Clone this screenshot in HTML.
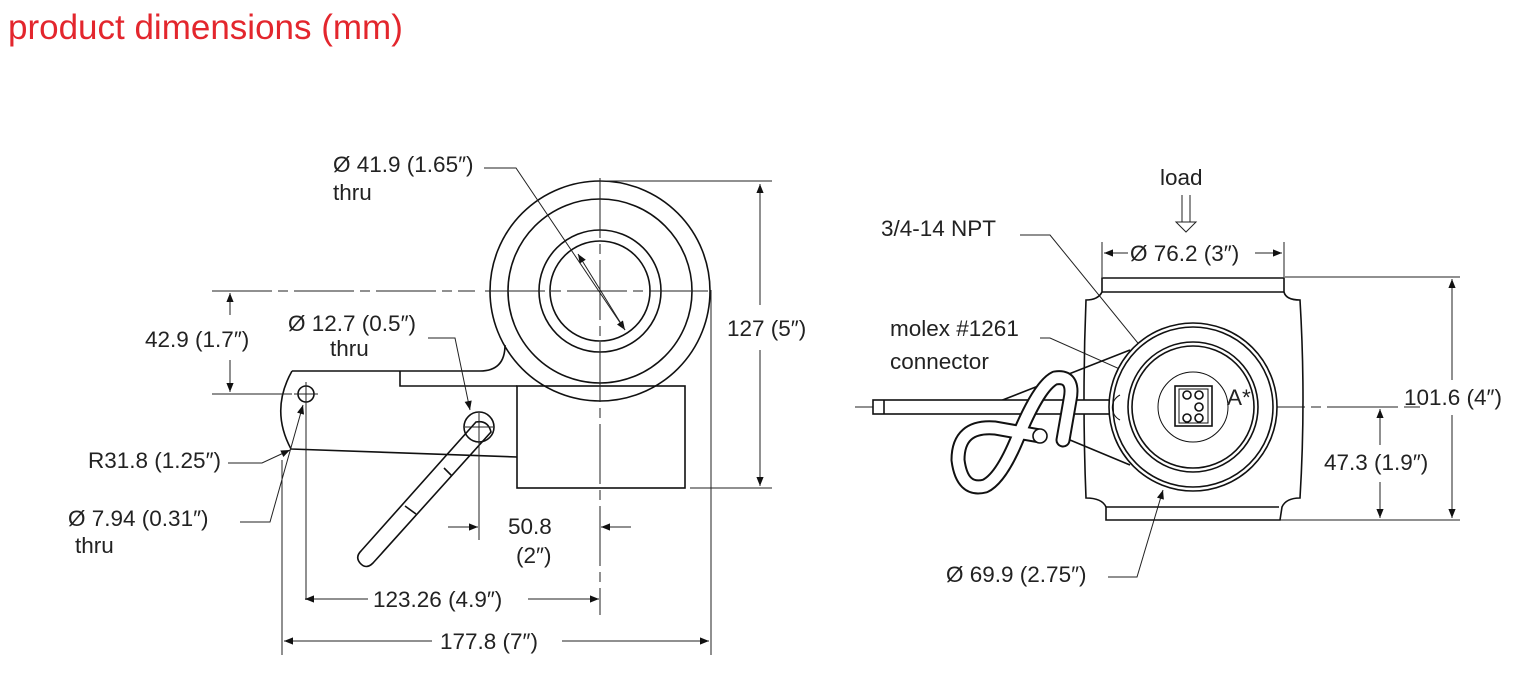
<!DOCTYPE html>
<html><head><meta charset="utf-8"><style>
html,body{margin:0;padding:0;background:#fff;}
svg{display:block;}
text{font-family:"Liberation Sans",sans-serif;font-size:22.5px;fill:#222;}
</style></head><body>
<svg width="1517" height="687" viewBox="0 0 1517 687" xmlns="http://www.w3.org/2000/svg">
<defs>
<marker id="a" viewBox="0 0 10 10" refX="10" refY="5" markerWidth="18" markerHeight="9" markerUnits="userSpaceOnUse" orient="auto-start-reverse"><path d="M0,1 L10,5 L0,9z" fill="#111"/></marker>
</defs>
<text x="8" y="39" style="font-size:35px;fill:#e3262d">product dimensions (mm)</text>

<g fill="none" stroke="#111" stroke-width="1.6">
<circle cx="600" cy="291" r="110"/>
<circle cx="600" cy="291" r="92"/>
<circle cx="600" cy="291" r="61"/>
<circle cx="600" cy="291" r="50"/>
<rect x="517" y="386" width="168" height="102"/>
<path d="M292,371 L400,371 L400,386 L517,386 M400,371 L480,371 Q505,371 505,345"/>
<path d="M292,371 Q270,410 291,449 L517,457"/>
<circle cx="306" cy="394" r="8"/>
<circle cx="479" cy="427" r="15"/>
<path d="M476,422 Q488,420 491,432 L373,563 Q366,570 360,563 Q355,557 361,551 Z"/>
<line x1="444" y1="468" x2="452" y2="476"/><line x1="405" y1="506" x2="416" y2="514"/>
</g>
<g fill="none" stroke="#222" stroke-width="1">
<path d="M212,291 L475,291 M485,291 L708,291 M600,178 L600,615" stroke-dasharray="60,6,10,6"/>
<path d="M294,394 L318,394 M306,382 L306,600 M465,427 L493,427 M479,413 L479,540"/>
<path d="M600,181 L772,181 M690,488 L772,488 M212,394 L292,394 M282,460 L282,655 M711,290 L711,655"/>
<line x1="760" y1="184" x2="760" y2="305" marker-start="url(#a)"/><line x1="760" y1="350" x2="760" y2="486" marker-end="url(#a)"/>
<line x1="230" y1="293" x2="230" y2="315" marker-start="url(#a)"/><line x1="230" y1="360" x2="230" y2="392" marker-end="url(#a)"/>
<line x1="305" y1="599" x2="368" y2="599" marker-start="url(#a)"/><line x1="528" y1="599" x2="599" y2="599" marker-end="url(#a)"/>
<line x1="284" y1="641" x2="432" y2="641" marker-start="url(#a)"/><line x1="562" y1="641" x2="709" y2="641" marker-end="url(#a)"/>
<line x1="448" y1="527" x2="478" y2="527" marker-end="url(#a)"/><line x1="631" y1="527" x2="601" y2="527" marker-end="url(#a)"/>
<path d="M484,168 L516,168 L625,330" marker-end="url(#a)"/>
<line x1="625" y1="330" x2="578" y2="254" marker-end="url(#a)"/>
<path d="M428,338 L455,338 L470,410" marker-end="url(#a)"/>
<path d="M228,463 L262,463 L290,450" marker-end="url(#a)"/>
<path d="M240,522 L270,522 L303,405" marker-end="url(#a)"/>

<path d="M855,407 L1000,407 M1020,407 L1100,407 M1250,407 L1420,407" stroke-dasharray="55,6,10,6"/>
<path d="M1102,277 L1102,242 M1284,277 L1284,242 M1285,277 L1460,277 M1280,520 L1460,520 M1330,407 L1395,407"/>
<line x1="1104" y1="253" x2="1128" y2="253" marker-start="url(#a)"/><line x1="1255" y1="253" x2="1282" y2="253" marker-end="url(#a)"/>
<line x1="1452" y1="279" x2="1452" y2="380" marker-start="url(#a)"/><line x1="1452" y1="415" x2="1452" y2="518" marker-end="url(#a)"/>
<line x1="1380" y1="409" x2="1380" y2="445" marker-start="url(#a)"/><line x1="1380" y1="482" x2="1380" y2="518" marker-end="url(#a)"/>
<path d="M1020,235 L1050,235 L1172,385" marker-end="url(#a)"/>
<path d="M1040,338 L1050,338 L1178,395" marker-end="url(#a)"/>
<path d="M1108,577 L1137,577 L1163,490" marker-end="url(#a)"/>
<path d="M1182,195 L1182,222 M1190,195 L1190,222 M1176,222 L1186,232 L1196,222 Z"/>
</g>
<g fill="none" stroke="#111" stroke-width="1.6">
<path d="M1102,292 L1102,278 L1284,278 L1284,292 Q1286,300 1300,300 Q1306,400 1300,498 Q1286,498 1282,507 L1280,520 L1106,520 L1106,507 Q1102,498 1086,498 Q1082,400 1086,300 Q1098,300 1102,292 Z"/>
<line x1="1102" y1="292" x2="1284" y2="292"/><line x1="1106" y1="507" x2="1279" y2="507"/>
<path d="M1000,401 L1130,350 M1070,440 L1130,465"/>
<rect x="873" y="400" width="240" height="14" fill="#fff"/><line x1="884" y1="400" x2="884" y2="414"/>
<circle cx="1193" cy="407" r="84" fill="#fff"/><circle cx="1193" cy="407" r="80"/>
<circle cx="1193" cy="407" r="65"/><circle cx="1193" cy="407" r="61"/>
<circle cx="1193" cy="407" r="35" stroke-width="1"/>
<rect x="1175" y="386" width="37" height="40"/><rect x="1179" y="389" width="29" height="34" stroke-width="1"/>
<circle cx="1187" cy="395" r="4"/><circle cx="1199" cy="395" r="4"/><circle cx="1199" cy="407" r="4"/><circle cx="1187" cy="418" r="4"/><circle cx="1199" cy="418" r="4"/>
<path d="M1120,395 A14,14 0 0 0 1120,420" stroke-width="1"/>
</g>
<g fill="none" stroke-linecap="round" stroke-linejoin="round">
<path d="M1040,436 L995,428 Q958,425 958,460 Q962,492 985,486 Q1002,478 1020,432 Q1040,385 1055,378 Q1075,375 1070,400 L1063,440" stroke="#111" stroke-width="15"/>
<path d="M1040,436 L995,428 Q958,425 958,460 Q962,492 985,486 Q1002,478 1020,432 Q1040,385 1055,378 Q1075,375 1070,400 L1063,440" stroke="#fff" stroke-width="11"/>
</g>
<circle cx="1040" cy="436" r="7" fill="#fff" stroke="#111" stroke-width="1.6"/>
<text x="333" y="172">Ø 41.9 (1.65″)</text><text x="333" y="200">thru</text>
<text x="288" y="331">Ø 12.7 (0.5″)</text><text x="330" y="356">thru</text>
<text x="145" y="347">42.9 (1.7″)</text>
<text x="727" y="336">127 (5″)</text>
<text x="88" y="468">R31.8 (1.25″)</text>
<text x="68" y="526">Ø 7.94 (0.31″)</text><text x="75" y="553">thru</text>
<text x="508" y="534">50.8</text><text x="516" y="563">(2″)</text>
<text x="373" y="607">123.26 (4.9″)</text>
<text x="440" y="649">177.8 (7″)</text>
<text x="1160" y="185">load</text>
<text x="881" y="236">3/4-14 NPT</text>
<text x="1130" y="261">Ø 76.2 (3″)</text>
<text x="890" y="336">molex #1261</text><text x="890" y="369">connector</text>
<text x="1227" y="405">A*</text>
<text x="1404" y="405">101.6 (4″)</text>
<text x="1324" y="470">47.3 (1.9″)</text>
<text x="946" y="582">Ø 69.9 (2.75″)</text>
</svg>
</body></html>
